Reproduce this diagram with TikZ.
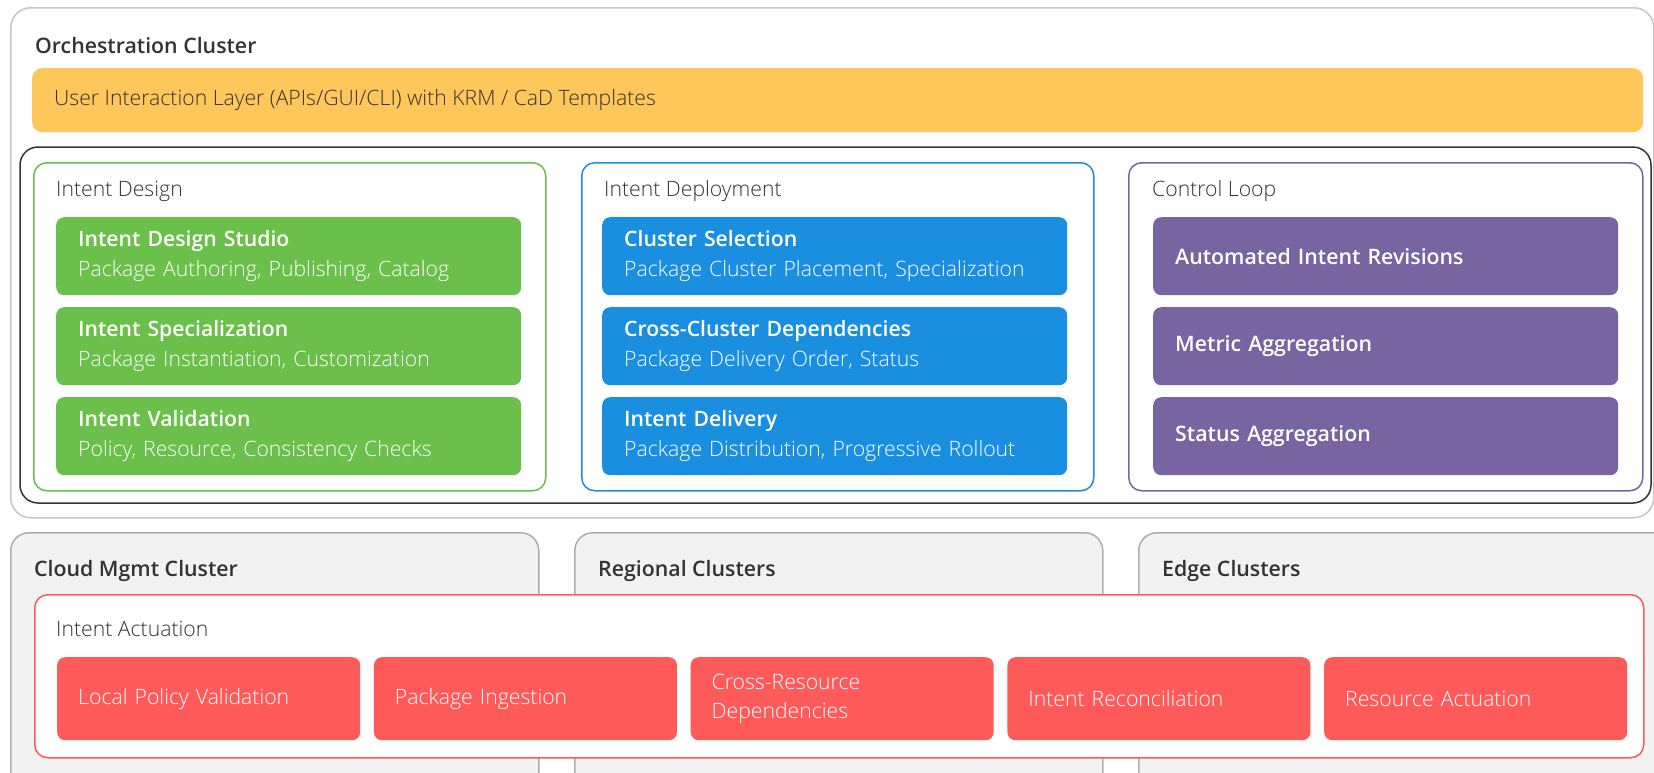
\documentclass[tikz,border=0pt]{standalone}
\usepackage{fontspec}
\setmainfont{Open Sans}[UprightFont={* Light},BoldFont={* Semibold}]
\definecolor{orchyellow}{HTML}{FFC65A}
\definecolor{designgreen}{HTML}{6BBF4B}
\definecolor{deployblue}{HTML}{1A8FDF}
\definecolor{loopviolet}{HTML}{7764A0}
\definecolor{actred}{HTML}{FF5A5A}
\definecolor{clusterfill}{HTML}{F2F2F2}
\definecolor{clusterline}{HTML}{ADADAD}
\definecolor{orchline}{HTML}{C6C6C6}
\definecolor{darktext}{HTML}{333333}
\newcommand\lite{\fontsize{21.2}{29.5}\selectfont}
\newcommand\heavy{\fontsize{21.3}{29.5}\selectfont\bfseries}
\begin{document}
\begin{tikzpicture}[x=1pt,y=-1pt,
	cluster/.style={draw=clusterline,line width=1.5pt,rounded corners=18pt,anchor=north west,inner sep=0pt},
	group/.style={draw=#1,line width=1.5pt,rounded corners=13pt,fill=white,anchor=north west,inner sep=0pt},
	item/.style={fill=#1,rounded corners=8pt,text=white,anchor=north west,minimum height=78pt,text width=421pt,inner xsep=22pt,inner ysep=0pt,align=left,font=\lite},
	actitem/.style={item=actred,minimum height=83pt,text width=261pt,inner xsep=21pt},
	heading/.style={anchor=base west,inner sep=0pt,text=darktext,font=\heavy},
	grouplabel/.style={anchor=base west,inner sep=0pt,text=darktext,font=\lite}]
	\useasboundingbox (0,0) rectangle (1654,772);
	% bottom clusters
	\node[cluster,fill=clusterfill,minimum width=528pt,minimum height=300pt] (cloud) at (10,532) {};
	\node[cluster,fill=clusterfill,minimum width=528pt,minimum height=300pt] (regional) at (574,532) {};
	\node[cluster,fill=clusterfill,minimum width=600pt,minimum height=300pt] (edge) at (1138,532) {};
	\node[heading] (cloudlbl) at (34,576) {Cloud Mgmt Cluster};
	\node[heading] (regionallbl) at (598,576) {Regional Clusters};
	\node[heading] (edgelbl) at (1162,576) {Edge Clusters};
	% orchestration cluster
	\node[cluster,draw=orchline,fill=white,rounded corners=20pt,minimum width=1643pt,minimum height=510pt] (orch) at (10,7) {};
	\node[heading] (orchlbl) at (35,53) {Orchestration Cluster};
	\node[fill=orchyellow,rounded corners=10pt,anchor=north west,inner sep=0pt,minimum width=1611pt,minimum height=64pt] (uil) at (32,68) {};
	\node[grouplabel] (uillbl) at (54,105) {User Interaction Layer (APIs/GUI/CLI) with KRM / CaD Templates};
	\draw[darktext,line width=1.5pt,rounded corners=18pt] (20,147) rectangle (1651,503);
	% intent design
	\node[group=designgreen,minimum width=512pt,minimum height=328pt] (design) at (33,162) {};
	\node[grouplabel] (designlbl) at (56,196) {Intent Design};
	\node[item=designgreen] (studio) at (56,217) {\textbf{Intent Design Studio}\\Package Authoring, Publishing, Catalog};
	\node[item=designgreen] (special) at (56,307) {\textbf{Intent Specialization}\\Package Instantiation, Customization};
	\node[item=designgreen] (valid) at (56,397) {\textbf{Intent Validation}\\Policy, Resource, Consistency Checks};
	% intent deployment
	\node[group=deployblue,minimum width=512pt,minimum height=328pt] (deploy) at (581,162) {};
	\node[grouplabel] (deploylbl) at (604,196) {Intent Deployment};
	\node[item=deployblue] (select) at (602,217) {\textbf{Cluster Selection}\\Package Cluster Placement, Specialization};
	\node[item=deployblue] (crossdep) at (602,307) {\textbf{Cross-Cluster Dependencies}\\Package Delivery Order, Status};
	\node[item=deployblue] (deliver) at (602,397) {\textbf{Intent Delivery}\\Package Distribution, Progressive Rollout};
	% control loop
	\node[group=loopviolet,minimum width=514pt,minimum height=328pt] (loop) at (1128,162) {};
	\node[grouplabel] (looplbl) at (1152,196) {Control Loop};
	\node[item=loopviolet,font=\heavy] (revise) at (1153,217) {Automated Intent Revisions};
	\node[item=loopviolet,font=\heavy] (metric) at (1153,307) {Metric Aggregation};
	\node[item=loopviolet,font=\heavy] (status) at (1153,397) {Status Aggregation};
	% intent actuation
	\node[group=actred,minimum width=1609pt,minimum height=163pt] (actuate) at (34,594) {};
	\node[grouplabel] (actuatelbl) at (56,636) {Intent Actuation};
	\node[actitem] (localpol) at (57,657) {Local Policy Validation};
	\node[actitem] (ingest) at (373.75,657) {Package Ingestion};
	\node[actitem] (crossres) at (690.5,657) {Cross-Resource\\Dependencies};
	\node[actitem] (reconcile) at (1007.25,657) {Intent Reconciliation};
	\node[actitem] (resact) at (1324,657) {Resource Actuation};
\end{tikzpicture}
\end{document}
